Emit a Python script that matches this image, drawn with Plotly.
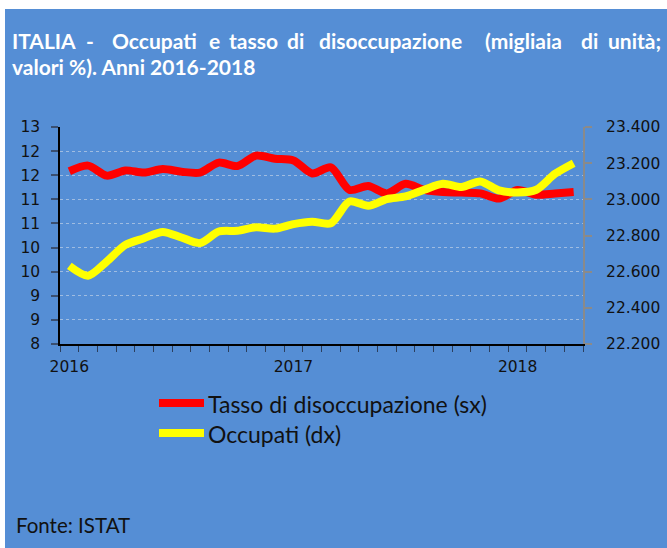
import plotly.graph_objects as go

# ---- data ----
months = [f"{m} {y}" for y in (2016, 2017, 2018) for m in
          ["gen", "feb", "mar", "apr", "mag", "giu", "lug", "ago", "set", "ott", "nov", "dic"]][:28]
tasso = [11.98, 12.11, 11.88, 12.00, 11.95, 12.03, 11.97, 11.95, 12.18, 12.10, 12.34, 12.27,
         12.23, 11.93, 12.07, 11.55, 11.64, 11.47, 11.69, 11.55, 11.50, 11.49, 11.47, 11.35,
         11.55, 11.44, 11.47, 11.50]
occupati = [22632, 22578, 22656, 22748, 22785, 22820, 22789, 22758, 22822, 22826, 22846, 22838,
            22863, 22876, 22868, 22988, 22964, 23001, 23016, 23053, 23086, 23068, 23099, 23049,
            23038, 23053, 23141, 23200]
year_labels = ["2016", "2017", "2018"]
left_ticks = [8 + k * 5 / 9 for k in range(10)]
left_tick_labels = ["8", "9", "9", "10", "10", "11", "11", "12", "12", "13"]
right_ticks = [22200, 22400, 22600, 22800, 23000, 23200, 23400]
right_tick_labels = ["22.200", "22.400", "22.600", "22.800", "23.000", "23.200", "23.400"]
series_names = ["Tasso di disoccupazione (sx)", "Occupati (dx)"]
title_words = ["ITALIA", "-", "Occupati", "e", "tasso", "di", "disoccupazione",
               "(migliaia", "di", "unità;"]
title_line2 = "valori %). Anni 2016-2018"
source = "Fonte: ISTAT"

# ---- geometry (pixels) ----
W, H = 667, 548
L, R, T, B = 60, 84, 127, 204
PW, PH = W - L - R, H - T - B
BLUE = "#558ED5"
RED = "#FF0000"
YEL = "#FFFF00"
word_centers = [44, 90, 154, 214, 253, 295, 390, 523, 589, 634]


def px(x):
    return (x - L) / PW


def py(y):
    return 1 - (y - T) / PH


x_idx = list(range(len(months)))

fig = go.Figure()
fig.add_trace(go.Scatter(x=x_idx, y=tasso, name=series_names[0], mode="lines",
                         line=dict(color=RED, width=8, shape="spline", smoothing=0.8),
                         text=months, showlegend=False, yaxis="y"))
fig.add_trace(go.Scatter(x=x_idx, y=occupati, name=series_names[1], mode="lines",
                         line=dict(color=YEL, width=8, shape="spline", smoothing=0.8),
                         text=months, showlegend=False, yaxis="y2"))

axis_font = dict(family="DejaVu Sans", size=15.5, color="#111111")

fig.update_layout(
    width=W, height=H, autosize=False,
    margin=dict(l=L, r=R, t=T, b=B, pad=0, autoexpand=False),
    paper_bgcolor="white", plot_bgcolor=BLUE,
    xaxis=dict(range=[-0.5, len(months) - 0.5], tickmode="array", automargin=False,
               tickvals=[0, 12, 24], ticktext=year_labels,
               ticks="outside", ticklen=0, tickfont=axis_font, ticklabelstandoff=8,
               showline=True, linecolor="#000000", linewidth=1.5,
               showgrid=False, zeroline=False,
               minor=dict(tickmode="linear", tick0=-0.5, dtick=1, ticklen=6,
                          tickcolor="#2b3f5e", tickwidth=1, ticks="outside", showgrid=False)),
    yaxis=dict(range=[8, 13], tickmode="array", tickvals=left_ticks, ticktext=left_tick_labels,
               automargin=False,
               ticks="outside", ticklen=7, tickcolor="#3a4f70", tickwidth=1.5,
               tickfont=axis_font, ticklabelstandoff=8,
               showline=True, linecolor="#000000", linewidth=1.5,
               showgrid=True, gridcolor="rgba(220,225,235,0.55)", griddash="dot", gridwidth=1,
               zeroline=False),
    yaxis2=dict(range=[22200, 23400], overlaying="y", side="right", tickmode="array",
                automargin=False,
                tickvals=right_ticks, ticktext=right_tick_labels,
                ticks="outside", ticklen=7, tickcolor="#8a8a8a", tickwidth=1.5,
                tickfont=axis_font, ticklabelstandoff=11,
                showline=True, linecolor="#8a8a8a", linewidth=2,
                showgrid=False, zeroline=False),
)

shapes = [dict(type="rect", xref="paper", yref="paper", layer="below",
               x0=px(5), x1=px(W + 2), y0=py(H + 2), y1=py(9),
               fillcolor=BLUE, line=dict(width=0))]
for i, col in enumerate([RED, YEL]):
    yy = 403 + i * 30
    shapes.append(dict(type="line", xref="paper", yref="paper",
                       x0=px(159), x1=px(204), y0=py(yy), y1=py(yy),
                       line=dict(color=col, width=8)))
fig.update_layout(shapes=shapes)

title_font = dict(family="Lato", size=21, color="white", weight="bold")
ann = []
for w, cx in zip(title_words, word_centers):
    ann.append(dict(text=w, xref="paper", yref="paper", x=px(cx), y=py(41),
                    xanchor="center", yanchor="middle", showarrow=False, font=title_font))
ann.append(dict(text=title_line2, xref="paper", yref="paper", x=px(10), y=py(67),
                xanchor="left", yanchor="middle", showarrow=False, font=title_font))
for i, n in enumerate(series_names):
    ann.append(dict(text=n, xref="paper", yref="paper", x=px(206), y=py(404 + i * 30),
                    xanchor="left", yanchor="middle", showarrow=False,
                    font=dict(family="Lato", size=23, color="#111111")))
ann.append(dict(text=source, xref="paper", yref="paper", x=px(14), y=py(525),
                xanchor="left", yanchor="middle", showarrow=False,
                font=dict(family="Lato", size=20.5, color="#111111")))
fig.update_layout(annotations=ann)

fig.write_html("out.html", config={"displayModeBar": False},
               post_script="document.body.style.margin='0';document.body.style.overflow='hidden';")
